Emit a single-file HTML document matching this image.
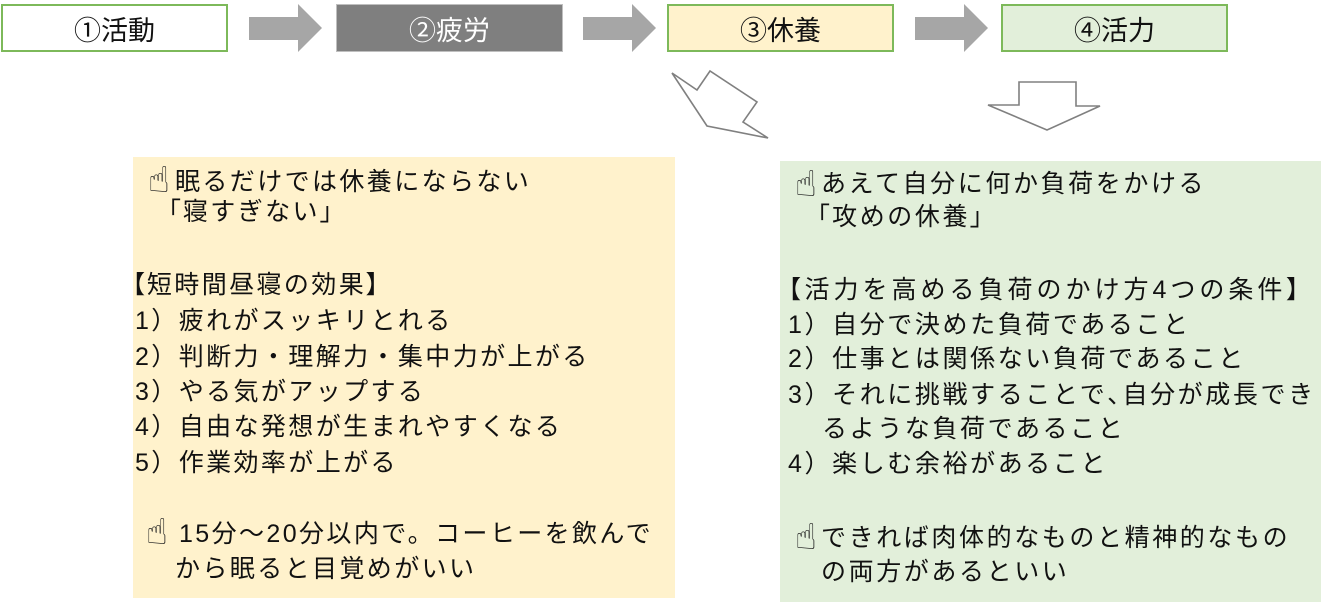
<!DOCTYPE html>
<html>
<head>
<meta charset="utf-8">
<style>
  html,body{margin:0;padding:0;}
  body{width:1328px;height:611px;position:relative;overflow:hidden;background:#fff;
    font-family:"Liberation Sans","Noto Sans CJK JP",sans-serif;color:#111;}
  .tb{position:absolute;top:4px;width:227px;height:48px;box-sizing:border-box;
    display:flex;align-items:center;justify-content:center;font-size:27px;
    font-family:"Liberation Sans","Noto Sans CJK JP",sans-serif;}
  .g{border:2px solid #7DB95A;}
  .panel{position:absolute;}
  .ln{position:absolute;white-space:nowrap;font-size:25px;letter-spacing:2.4px;line-height:34px;height:34px;}
  .r{letter-spacing:2.6px;}
  .p{font-feature-settings:"palt";}
  .hand{position:absolute;font-family:"DejaVu Sans",sans-serif;font-size:36px;line-height:36px;color:#222;}
  svg{position:absolute;left:0;top:0;}
</style>
</head>
<body>
<div class="tb g" style="left:1px;background:#fff;">①活動</div>
<div class="tb" style="left:336px;background:#7F7F7F;border:1px solid #BFBFBF;color:#fff;">②疲労</div>
<div class="tb g" style="left:667px;background:#FFF2CC;">③休養</div>
<div class="tb g" style="left:1001px;background:#E2EFDA;">④活力</div>

<svg width="1328" height="611" viewBox="0 0 1328 611">
  <polygon points="249,17 298,17 298,4 322,28 298,52 298,40 249,40" fill="#A6A6A6"/>
  <polygon points="583,17 632,17 632,4 656,28 632,52 632,40 583,40" fill="#A6A6A6"/>
  <polygon points="915,17 964,17 964,4 988,28 964,52 964,40 915,40" fill="#A6A6A6"/>
  <polygon points="672,73 697,90 710,71 757,102 743,122 768,138 707,126" fill="#fff" stroke="#808080" stroke-width="1.6" stroke-linejoin="miter"/>
  <polygon points="1019,82 1076,82 1076,106 1100,106 1047,130 988,105 1019,105" fill="#fff" stroke="#808080" stroke-width="1.6"/>
</svg>

<div class="panel" style="left:133px;top:157px;width:542px;height:441px;background:#FFF2CC;"></div>
<div class="panel" style="left:780px;top:161px;width:541px;height:441px;background:#E2EFDA;"></div>

<!-- left panel text -->
<span class="hand" style="left:148px;top:163px;">☝</span>
<div class="ln" style="left:175px;top:165px;">眠るだけでは休養にならない</div>
<div class="ln" style="left:168px;top:195px;"><span class="p">「</span>寝すぎない<span class="p">」</span></div>
<div class="ln" style="left:132px;top:268px;"><span class="p">【</span>短時間昼寝の効果<span class="p">】</span></div>
<div class="ln" style="left:135px;top:304px;">1）疲れがスッキリとれる</div>
<div class="ln" style="left:135px;top:340px;">2）判断力・理解力・集中力が上がる</div>
<div class="ln" style="left:135px;top:375px;">3）やる気がアップする</div>
<div class="ln" style="left:135px;top:410px;">4）自由な発想が生まれやすくなる</div>
<div class="ln" style="left:135px;top:446px;">5）作業効率が上がる</div>
<span class="hand" style="left:146px;top:515px;">☝</span>
<div class="ln" style="left:179px;top:517px;">15分～20分以内で。コーヒーを飲んで</div>
<div class="ln" style="left:175px;top:552px;">から眠ると目覚めがいい</div>

<!-- right panel text -->
<span class="hand" style="left:795px;top:167px;">☝</span>
<div class="ln r" style="left:821px;top:167px;">あえて自分に何か負荷をかける</div>
<div class="ln r" style="left:817px;top:200px;"><span class="p">「</span>攻めの休養<span class="p">」</span></div>
<div class="ln" style="left:788px;top:273px;letter-spacing:4px;"><span class="p">【</span>活力を高める負荷のかけ方4つの条件<span class="p">】</span></div>
<div class="ln r" style="left:788px;top:308px;">1）自分で決めた負荷であること</div>
<div class="ln r" style="left:788px;top:342px;">2）仕事とは関係ない負荷であること</div>
<div class="ln r" style="left:788px;top:378px;">3）それに挑戦することで<span class="p">、</span>自分が成長でき</div>
<div class="ln r" style="left:822px;top:412px;">るような負荷であること</div>
<div class="ln r" style="left:788px;top:447px;">4）楽しむ余裕があること</div>
<span class="hand" style="left:795px;top:520px;">☝</span>
<div class="ln r" style="left:821px;top:521px;">できれば肉体的なものと精神的なもの</div>
<div class="ln r" style="left:821px;top:555px;">の両方があるといい</div>
</body>
</html>
